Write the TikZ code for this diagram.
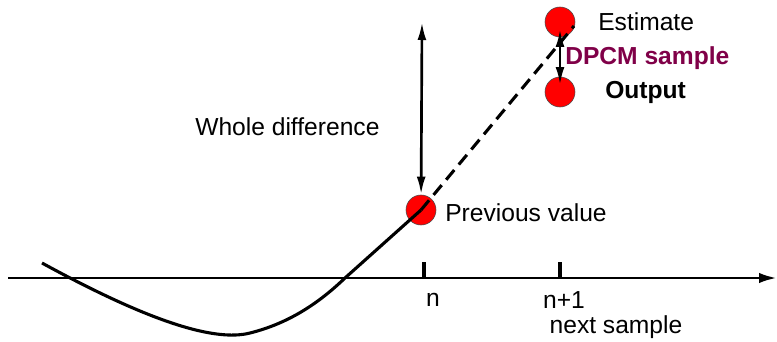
\documentclass[tikz,border=0pt]{standalone}
\usepackage{fontspec}
\setmainfont{Liberation Sans}
\usepackage{tikz}
\usetikzlibrary{arrows.meta,positioning,calc}

\begin{document}
\begin{tikzpicture}[
    x=0.025cm, y=-0.025cm,
    dot/.style={circle, draw=black!70, thin, fill=red, minimum size=0.75cm, inner sep=0pt},
    lbl/.style={anchor=west, inner sep=0pt, font=\fontsize{17.5}{20}\selectfont},
    curve/.style={line width=2.2pt},
    arrow/.style={{Latex[length=4.5mm, width=2.2mm]}-{Latex[length=4.5mm, width=2.2mm]}, line width=1.9pt},
    axis/.style={-{Latex[length=4.5mm, width=2.6mm]}, line width=2.1pt}
]
\useasboundingbox (0,0) rectangle (777,342);

% ================= COORDINATES & NODES =================
% Time axis
\coordinate (AxisStart) at (8,278);
\coordinate (AxisEnd) at (777,278);
\coordinate (TickN) at (424,278);
\coordinate (TickNext) at (560,278);

% Sample dots
\node[dot] (Prev) at (421,210) {};
\node[dot] (Est) at (560,22) {};
\node[dot] (Out) at (560,92) {};

% Free ends
\coordinate (WholeTop) at (422,22);
\coordinate (DashEnd) at (574,26);

% Labels
\node[lbl] (EstLbl) at (598,22) {Estimate};
\node[lbl, font=\fontsize{17.5}{20}\selectfont\bfseries, text={rgb,255:red,128;green,0;blue,72}] (DpcmLbl) at (565,58) {DPCM sample};
\node[lbl, font=\fontsize{17.5}{20}\selectfont\bfseries] (OutLbl) at (605,92) {Output};
\node[lbl] (WholeLbl) at (195,127) {Whole difference};
\node[lbl] (PrevLbl) at (445,213) {Previous value};
\node[lbl, anchor=center] (NLbl) at (433,300) {n};
\node[lbl, anchor=center] (NextLbl) at (564,300) {n+1};
\node[lbl, anchor=center] (SampleLbl) at (616,327) {next sample};

% ================= DRAWING =================
% Axis and ticks
\draw[axis] (AxisStart) -- (AxisEnd);
\draw[curve] (TickN) -- ++(0,-16);
\draw[curve] (TickNext) -- ++(0,-16);

% Signal
\draw[curve] (42,263) .. controls (150,322) and (215,342) .. (250,333)
    .. controls (290,323) and (320,302) .. (345,278) -- (Prev.center);
\draw[curve, dashed, dash pattern=on 9pt off 5pt] (Prev.center) -- (DashEnd);

% Differences
\draw[arrow] (WholeTop) -- (Prev);
\draw[arrow, shorten <=-6pt, shorten >=-6pt] (Est) -- (Out);

\end{tikzpicture}
\end{document}
